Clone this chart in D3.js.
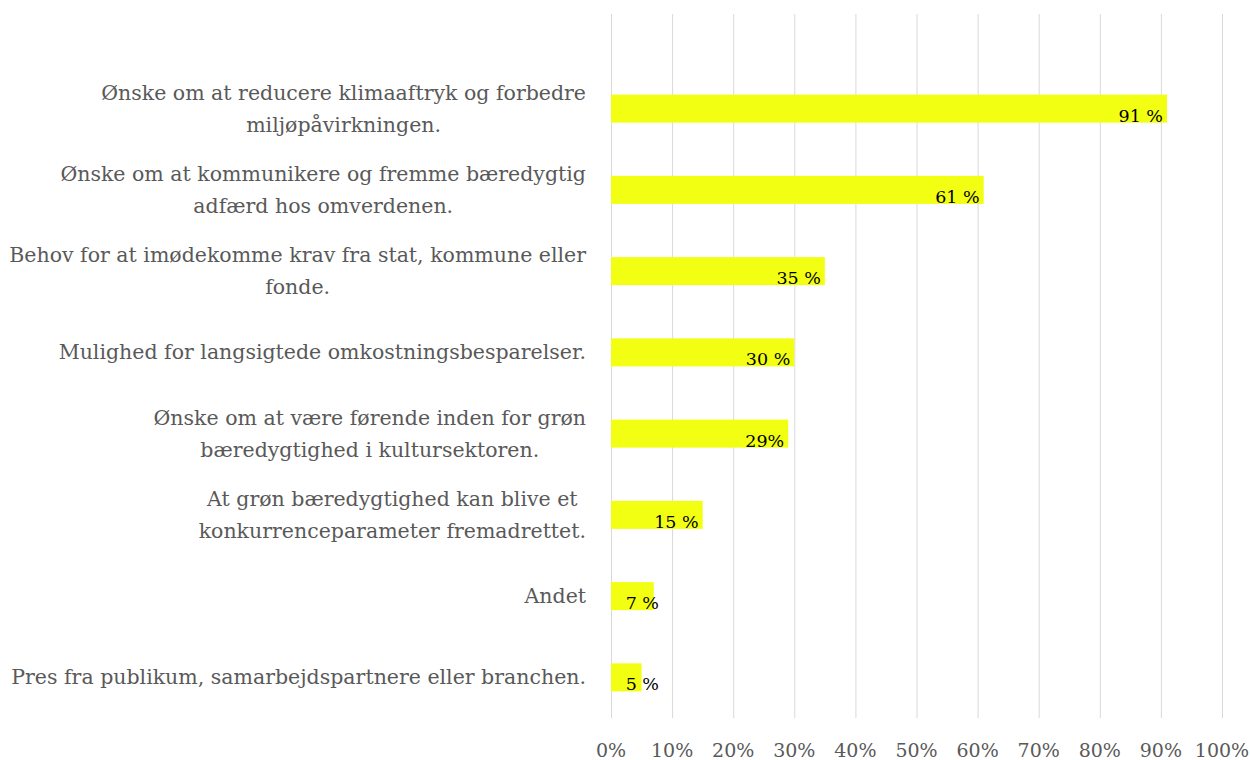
<!DOCTYPE html>
<html>
<head>
<meta charset="utf-8">
<script src="https://cdn.jsdelivr.net/npm/d3@7"></script>
<style>
  body { margin: 0; background: #fff; }
  svg text { font-family: "DejaVu Serif", serif; }
</style>
</head>
<body>
<div class="chart"></div>
<script>
// categories, top to bottom (lines split where the original wraps)
const categories = [
  ["Ønske om at reducere klimaaftryk og forbedre", "miljøpåvirkningen."],
  ["Ønske om at kommunikere og fremme bæredygtig", "adfærd hos omverdenen."],
  ["Behov for at imødekomme krav fra stat, kommune eller", "fonde."],
  ["Mulighed for langsigtede omkostningsbesparelser."],
  ["Ønske om at være førende inden for grøn", "bæredygtighed i kultursektoren."],
  ["At grøn bæredygtighed kan blive et", "konkurrenceparameter fremadrettet."],
  ["Andet"],
  ["Pres fra publikum, samarbejdspartnere eller branchen."]
];
const values = [91, 61, 35, 30, 29, 15, 7, 5];
const valueLabels = ["91 %", "61 %", "35 %", "30 %", "29%", "15 %", "7 %", "5 %"];
const ticks = [0, 10, 20, 30, 40, 50, 60, 70, 80, 90, 100];

const W = 1250, H = 760;
const svg = d3.select(".chart").append("svg")
  .attr("width", W)
  .attr("height", H);

const x = d3.scaleLinear().domain([0, 100]).range([611, 1222]);
const y = d3.scaleBand()
  .domain(d3.range(categories.length))
  .range([68, 718])
  .paddingInner(0.655)
  .paddingOuter(0.3275);

const gridTop = 14, gridBottom = 718;

// gridlines
svg.append("g").selectAll("line")
  .data(ticks)
  .enter().append("line")
  .attr("x1", d => x(d) + 0.5)
  .attr("x2", d => x(d) + 0.5)
  .attr("y1", gridTop)
  .attr("y2", gridBottom)
  .attr("stroke", "#d9d9d9")
  .attr("stroke-width", 1);

// tick labels
svg.append("g").selectAll("text")
  .data(ticks)
  .enter().append("text")
  .attr("x", d => x(d))
  .attr("y", 757)
  .attr("text-anchor", "middle")
  .attr("font-size", "19px")
  .attr("fill", "#595959")
  .text(d => d + "%");

// bars
svg.append("g").selectAll("rect")
  .data(values)
  .enter().append("rect")
  .attr("x", x(0))
  .attr("y", (d, i) => y(i))
  .attr("width", d => x(d) - x(0))
  .attr("height", y.bandwidth())
  .attr("fill", "#f2ff12");

// value labels, inside end of the bar
svg.append("g").selectAll("text")
  .data(values)
  .enter().append("text")
  .attr("x", d => Math.max(x(d) - 4, x(0) + 48))
  .attr("y", (d, i) => y(i) + y.bandwidth() - 1)
  .attr("text-anchor", "end")
  .attr("font-size", "17.5px")
  .attr("fill", "#000")
  .text((d, i) => valueLabels[i]);

// category labels: block right aligned, lines centred inside the block
const labelRight = 586, lineH = 32;
const cat = svg.append("g").selectAll("text")
  .data(categories)
  .enter().append("text")
  .attr("font-size", "20.5px")
  .attr("fill", "#595959");

cat.each(function(lines, i) {
  const t = d3.select(this);
  const cy = y(i) + y.bandwidth() / 2;
  const tsp = lines.map((ln, j) => t.append("tspan")
    .attr("y", cy + (j - (lines.length - 1) / 2) * lineH + 7)
    .text(ln));
  const widths = tsp.map(s => s.node().getComputedTextLength());
  const maxW = d3.max(widths);
  tsp.forEach(s => s.attr("x", labelRight - maxW / 2).attr("text-anchor", "middle"));
});
</script>
</body>
</html>
